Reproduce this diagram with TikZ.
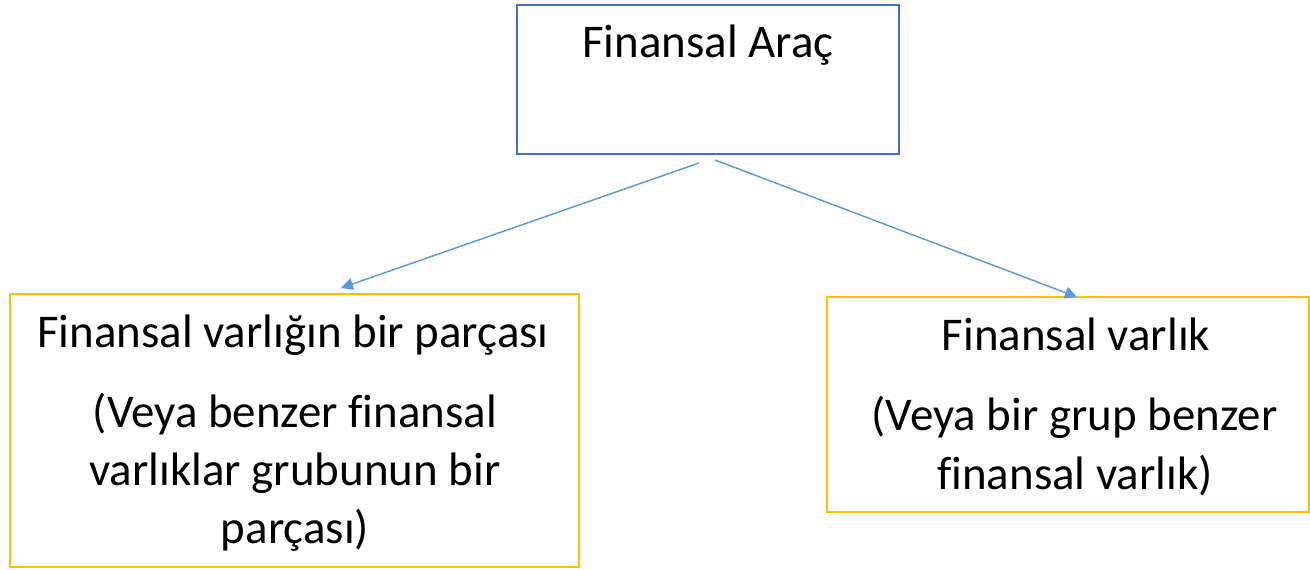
\documentclass[tikz,border=0pt]{standalone}
\usepackage{fontspec}
\setmainfont{Carlito}[Ligatures=NoCommon]
\usetikzlibrary{arrows.meta}
\definecolor{boxblue}{RGB}{68,114,196}
\definecolor{boxgold}{RGB}{255,192,0}
\definecolor{arrowblue}{RGB}{91,155,213}

\begin{document}
\begin{tikzpicture}[x=0.75pt,y=0.75pt,yscale=-1,xscale=1,
	topbox/.style={draw=boxblue,line width=1.5pt,inner sep=0pt},
	subbox/.style={draw=boxgold,line width=1.5pt,inner sep=0pt},
	lbl/.style={anchor=base,inner sep=0pt,font=\fontsize{35.2}{42}\selectfont},
	link/.style={draw=arrowblue,line width=1.1pt,-{Triangle[length=9pt,width=9pt]}}]
	\useasboundingbox (0,0) rectangle (1310,569);
	% boxes
	\node (arac) [topbox,minimum width=286.5pt,minimum height=111.75pt] at (708,79.5) {};
	\node (parca) [subbox,minimum width=426.75pt,minimum height=204.75pt] at (294.5,430.5) {};
	\node (varlik) [subbox,minimum width=361.5pt,minimum height=161.25pt] at (1068,404.5) {};
	% texts
	\node (aracT) [lbl] at (708,57) {Finansal Araç};
	\node (parcaT1) [lbl] at (293,347) {Finansal varlığın bir parçası};
	\node (parcaT2) [lbl] at (295,427) {(Veya benzer finansal};
	\node (parcaT3) [lbl] at (295,485) {varlıklar grubunun bir};
	\node (parcaT4) [lbl] at (295,543) {parçası)};
	\node (varlikT1) [lbl] at (1076,350) {Finansal varlık};
	\node (varlikT2) [lbl] at (1074.5,430) {(Veya bir grup benzer};
	\node (varlikT3) [lbl] at (1075,489) {finansal varlık)};
	% arrows
	\coordinate (lstart) at (699,163);
	\coordinate (lend) at (341,288);
	\coordinate (rstart) at (715,160);
	\coordinate (rend) at (1077,297);
	\draw[link] (lstart) -- (lend);
	\draw[link] (rstart) -- (rend);
\end{tikzpicture}
\end{document}
